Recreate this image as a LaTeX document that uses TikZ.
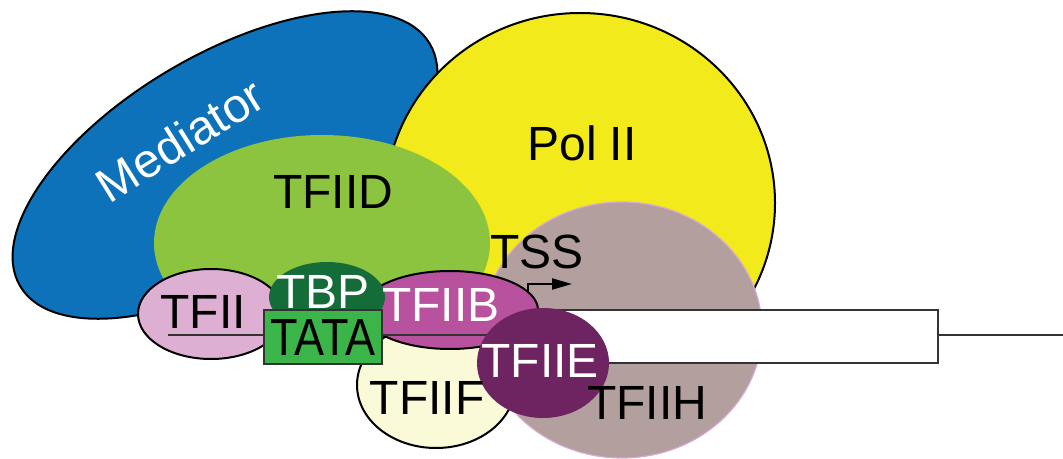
\documentclass[tikz,border=0pt]{standalone}
\usepackage{fontspec}
\setmainfont{Liberation Sans}
\usetikzlibrary{arrows.meta}
\definecolor{medblue}{HTML}{0D72B9}
\definecolor{polyellow}{HTML}{F2EA1B}
\definecolor{tfiidgreen}{HTML}{8CC43F}
\definecolor{tfiihgray}{HTML}{B3A09E}
\definecolor{tfiihrim}{HTML}{D8A8D6}
\definecolor{tfiipink}{HTML}{DDB0D3}
\definecolor{tbpgreen}{HTML}{146C38}
\definecolor{tatagreen}{HTML}{3BB44A}
\definecolor{tfiibmag}{HTML}{B8519E}
\definecolor{tfiifcream}{HTML}{FAF9D8}
\definecolor{tfiiepurple}{HTML}{6D2460}
\definecolor{dnagray}{HTML}{333333}
\begin{document}
\begin{tikzpicture}[x=0.5pt,y=-0.5pt,
		lbl/.style={font=\fontsize{24}{28}\selectfont, inner sep=0pt},
		wlbl/.style={lbl, text=white},
		rim/.style={draw=black, line width=1pt}]
		\useasboundingbox (0,0) rectangle (1063,459);
		\draw[rim, fill=medblue, rotate around={30.6:(225,165)}] (225,165) ellipse (238 and 110);	% Mediator
		\draw[rim, fill=polyellow] (580,203) ellipse (195 and 190);		% Pol II
		\fill[tfiidgreen] (322,243) ellipse (168 and 108);				% TFIID
		\draw[draw=tfiihrim, line width=0.6pt, fill=tfiihgray] (622,330) ellipse (140 and 128);	% TFIIH
		\draw[rim, fill=tfiifcream] (436,385) ellipse (79 and 63);		% TFIIF
		\draw[rim, fill=tfiipink] (211,314) ellipse (73 and 45);		% TFII
		\draw[rim, fill=tfiibmag] (450,310) ellipse (88 and 39);		% TFIIB
		
		% DNA
		\coordinate (dnaleft) at (168,335);
		\coordinate (dnaright) at (1063,335);
		\draw[dnagray, line width=1pt] (dnaleft) -- (dnaright);
		\draw[dnagray, line width=1pt, fill=white] (545,310) rectangle (938,363);
		
		% TSS
		\coordinate (tssfoot) at (528,293);
		\coordinate (tsstip) at (572,284);
		\draw[line width=1pt, -{Triangle[length=10pt,width=5.5pt]}] (tssfoot) |- (tsstip);
		
		\fill[tbpgreen] (327,297) ellipse (58 and 35);					% TBP
		\draw[dnagray, line width=0.8pt, fill=tatagreen] (264,310) rectangle (382,364);	% TATA
		\fill[tfiiepurple] (543,363) ellipse (66 and 55);				% TFIIE
		
		% Rotulos
		\node[wlbl, rotate=32] (med) at (180,140) {Mediator};
		\node[lbl] (pol) at (582,143) {Pol II};
		\node[lbl] (tfiid) at (333,192) {TFIID};
		\node[lbl] (tss) at (537,252) {TSS};
		\node[lbl] (tfii) at (203,312) {TFII};
		\node[wlbl] (tbp) at (323,292) {TBP};
		\node[lbl, font=\fontsize{22.5}{26}\selectfont] (tata) at (323,338) {\scalebox{1}[1.16]{TATA}};
		\node[wlbl] (tfiib) at (441,305) {TFIIB};
		\node[lbl] (tfiif) at (427,398) {TFIIF};
		\node[wlbl] (tfiie) at (540,361) {TFIIE};
		\node[lbl] (tfiih) at (647,403) {TFIIH};
	\end{tikzpicture}
\end{document}
